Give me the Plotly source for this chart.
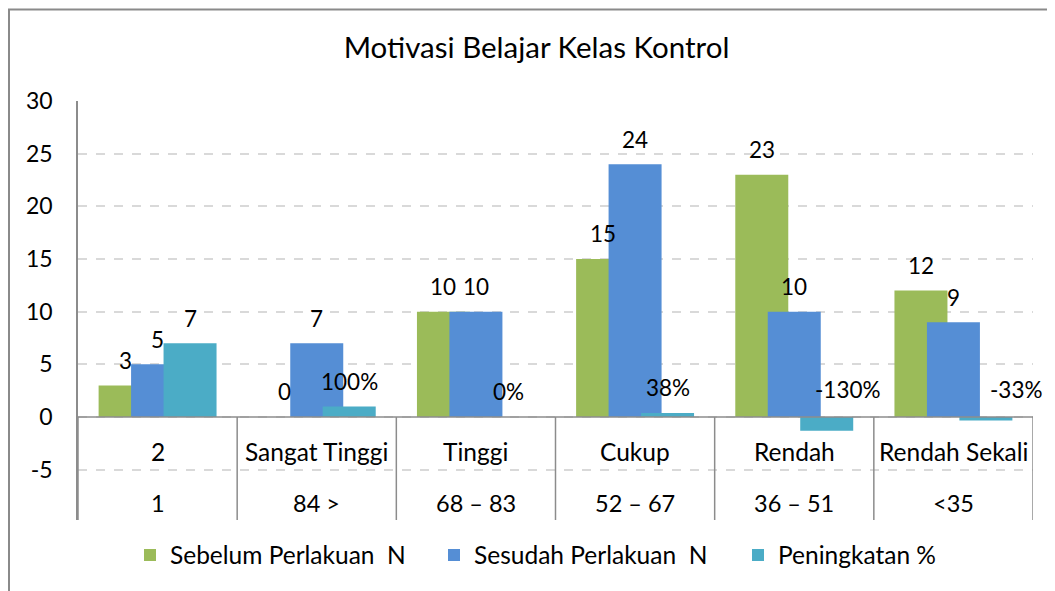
import plotly.graph_objects as go

# ---- data ----
categories = ["2", "Sangat Tinggi", "Tinggi", "Cukup", "Rendah", "Rendah Sekali"]
score_ranges = ["1", "84 >", "68 – 83", "52 – 67", "36 – 51", "<35"]
sebelum = [3, 0, 10, 15, 23, 12]
sesudah = [5, 7, 10, 24, 10, 9]
peningkatan = [7, 1, 0, 0.38, -1.3, -0.33]
peningkatan_labels = ["7", "100%", "0%", "38%", "-130%", "-33%"]
series_names = ["Sebelum Perlakuan  N", "Sesudah Perlakuan  N", "Peningkatan %"]
y_tick_vals = [-5, 0, 5, 10, 15, 20, 25, 30]
y_tick_text = ["-5", "0", "5", "10", "15", "20", "25", "30"]
title_text = "Motivasi Belajar Kelas Kontrol"

# ---- style ----
COLORS = ["#9BBB59", "#558ED5", "#4BACC6"]
FONT = "Lato"
W = 0.333          # bar width (category units)
S = 0.204          # step between series
OFFSETS = [-W / 2 - S, -W / 2, -W / 2 + S]
TEAL_LABEL_NUDGE = [0, 0, 0, 0, 21, 31]   # px
YMIN, YMAX = -9.78, 30
# the page adds an 8px body margin, so the figure is sized/positioned to compensate
FIG_W, FIG_H = 1047, 583
ML, MR, MT, MB = 70, 22, 93, 71
PLOT_W = FIG_W - ML - MR
PLOT_H = FIG_H - MT - MB

fig = go.Figure()
for name, vals, col, off in zip(series_names, [sebelum, sesudah, peningkatan], COLORS, OFFSETS):
    fig.add_trace(go.Bar(
        x=categories, y=vals, name=name, width=W, offset=off,
        marker=dict(color=col, line=dict(width=0)),
        hoverinfo="x+y",
    ))

n = len(categories)
ann = []
text_sets = [[str(v) for v in sebelum], [str(v) for v in sesudah], peningkatan_labels]
for s, (vals, texts) in enumerate(zip([sebelum, sesudah, peningkatan], text_sets)):
    for i, (v, t) in enumerate(zip(vals, texts)):
        nudge = TEAL_LABEL_NUDGE[i] if s == 2 else 0
        ann.append(dict(
            x=i + OFFSETS[s] + W / 2, y=max(v, 0), xref="x", yref="y",
            text=t, showarrow=False, yanchor="middle", xanchor="center",
            yshift=25 if v >= 0 else 27, xshift=nudge,
            font=dict(family=FONT, size=22.5, color="#000000"),
        ))
for i in range(n):
    ann.append(dict(x=i, y=-3.32, xref="x", yref="y", text=categories[i], showarrow=False,
                    yanchor="middle", font=dict(family=FONT, size=24.5, color="#000000")))
    ann.append(dict(x=i, y=-8.16, xref="x", yref="y", text=score_ranges[i], showarrow=False,
                    yanchor="middle", font=dict(family=FONT, size=23.5, color="#000000")))

shapes = []
AXIS_COL = "#8C8C8C"
shapes.append(dict(type="line", xref="x", yref="y", x0=-0.5, x1=n - 0.5, y0=0, y1=0,
                   line=dict(color=AXIS_COL, width=1.5), layer="above"))
for k in range(n + 1):
    shapes.append(dict(type="line", xref="x", yref="y", x0=k - 0.5, x1=k - 0.5, y0=0, y1=YMIN,
                       line=dict(color=AXIS_COL, width=1.5), layer="above"))
shapes.append(dict(type="rect", xref="paper", yref="paper",
                   x0=(1 - ML) / PLOT_W, x1=(FIG_W + 20 - ML) / PLOT_W,
                   y0=-(MB + 20) / PLOT_H, y1=(MT - 1.5) / PLOT_H + 1,
                   line=dict(color="#8A8A8A", width=2), fillcolor="rgba(0,0,0,0)", layer="above"))

fig.update_layout(
    width=FIG_W, height=FIG_H,
    margin=dict(l=ML, r=MR, t=MT, b=MB, pad=0, autoexpand=False),
    paper_bgcolor="white", plot_bgcolor="white",
    barmode="overlay",
    title=dict(text=title_text, x=(536.5 - 8) / FIG_W, xanchor="center",
               y=1 - 39.5 / FIG_H, yanchor="middle", yref="container",
               font=dict(family=FONT, size=29.5, color="#000000")),
    xaxis=dict(range=[-0.5, n - 0.5], showticklabels=False, showgrid=False,
               zeroline=False, showline=False, ticks="", fixedrange=True, automargin=False),
    yaxis=dict(range=[YMIN, YMAX], tickvals=y_tick_vals, ticktext=y_tick_text,
               showgrid=True, gridcolor="#D9D9D9", griddash="dash", gridwidth=1.5,
               zeroline=False, showline=True, linecolor=AXIS_COL, linewidth=1.5,
               ticks="", ticklabelstandoff=19, automargin=False,
               tickfont=dict(family=FONT, size=23, color="#000000")),
    legend=dict(orientation="h", x=(130 - 8 - ML) / PLOT_W, xanchor="left",
                y=-(547 - (MT + PLOT_H)) / PLOT_H, yanchor="middle",
                entrywidth=259, entrywidthmode="pixels",
                font=dict(family=FONT, size=24.5, color="#000000"),
                bgcolor="rgba(0,0,0,0)"),
    annotations=ann, shapes=shapes,
    showlegend=True,
)

fig.write_html("out.html")
